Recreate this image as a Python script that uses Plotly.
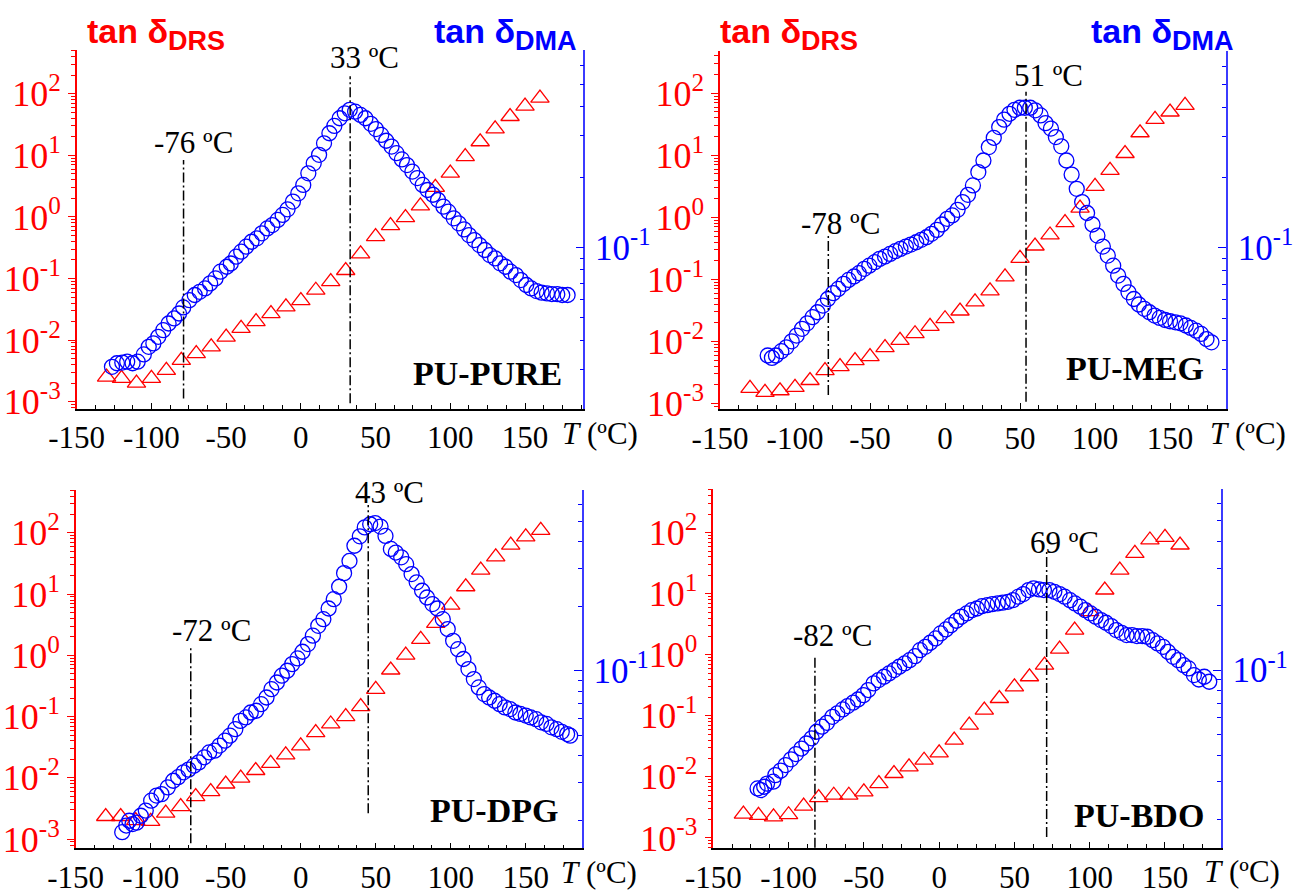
import plotly.graph_objects as go

W, H = 1296, 894

# ---------------- data ----------------
T_drs = [-130, -120, -110, -100, -90, -80, -70, -60, -50, -40, -30, -20, -10, 0, 10,
         20, 30, 40, 50, 60, 70, 80, 90, 100, 110, 120, 130, 140, 150, 160]

pure_drs = [0.00251, 0.00240, 0.00200, 0.00240, 0.00324, 0.00468, 0.00603, 0.00776, 0.0112, 0.0155,
            0.0200, 0.0269, 0.0347, 0.0437, 0.0646, 0.0891, 0.135, 0.251, 0.479, 0.724,
            0.977, 1.51, 3.02, 5.13, 9.55, 16.6, 26.9, 42.7, 63.1, 85.1]
meg_drs = [0.00175, 0.00151, 0.00160, 0.00182, 0.00234, 0.00339, 0.00393, 0.00490, 0.00570, 0.00794,
           0.0104, 0.0133, 0.0175, 0.0232, 0.0309, 0.0433, 0.0652, 0.110, 0.218, 0.345,
           0.520, 0.824, 1.41, 3.16, 5.73, 10.7, 23.1, 37.9, 49.9, 64.0]
dpg_drs = [0.00234, 0.00234, 0.00200, 0.00195, 0.00265, 0.00340, 0.00495, 0.00597, 0.00794, 0.00989,
           0.0132, 0.0173, 0.0237, 0.0333, 0.0548, 0.0759, 0.100, 0.146, 0.279, 0.577,
           1.01, 1.82, 3.33, 6.62, 13.2, 24.6, 40.6, 63.0, 86.1, 110.0]
bdo_drs = [0.00245, 0.00234, 0.00221, 0.00240, 0.00331, 0.00457, 0.00501, 0.00501, 0.00568, 0.00778,
           0.01135, 0.01459, 0.01875, 0.0247, 0.0399, 0.0703, 0.124, 0.192, 0.299, 0.436,
           0.678, 1.24, 2.54, 5.07, 11.5, 24.4, 45.8, 75.9, 83.8, 62.8]

pure_dma_T = [-126.4, -123.1, -119.5, -116.2, -112.6, -109.2, -105.1, -101.8, -98.7, -95.4, -92.1, -88.5,
              -84.8, -81.5, -78.7, -74.6, -71.0, -67.7, -64.1, -60.7, -57.1, -53.8, -49.6, -46.9,
              -43.3, -39.9, -36.6, -33.0, -29.4, -26.1, -22.5, -19.1, -15.5, -12.2, -8.9, -5.3,
              -1.7, 1.6, 5.0, 8.6, 12.2, 15.5, 19.1, 22.4, 26.0, 29.4, 32.7, 36.3,
              39.9, 43.2, 46.8, 50.2, 53.8, 57.1, 60.7, 64.0, 67.6, 71.0, 74.6, 77.9,
              81.5, 84.8, 88.4, 91.8, 95.4, 98.7, 102.3, 105.6, 109.2, 112.5, 116.1, 119.5,
              123.1, 126.4, 130.0, 133.3, 136.9, 140.3, 143.9, 147.2, 150.8, 154.1, 157.7, 161.1,
              164.7, 168.0, 171.6, 174.9, 178.5]
pure_dma = [0.0308, 0.0319, 0.0321, 0.0324, 0.0319, 0.0324, 0.0348, 0.0375, 0.0388, 0.0414, 0.0442, 0.0472,
            0.0496, 0.0521, 0.0553, 0.0594, 0.0625, 0.0645, 0.0667, 0.0701, 0.0736, 0.0787, 0.0826, 0.0853,
            0.0912, 0.0958, 0.1007, 0.1057, 0.1093, 0.1148, 0.1205, 0.1246, 0.131, 0.1377, 0.1455, 0.157,
            0.1703, 0.185, 0.2075, 0.229, 0.249, 0.279, 0.308, 0.331, 0.357, 0.375, 0.388, 0.381,
            0.369, 0.357, 0.338, 0.321, 0.303, 0.286, 0.270, 0.253, 0.238, 0.225, 0.211, 0.198,
            0.185, 0.176, 0.168, 0.1595, 0.1494, 0.1422, 0.1331, 0.1267, 0.1194, 0.1129, 0.1074, 0.1023,
            0.0974, 0.0927, 0.0897, 0.0854, 0.0826, 0.0787, 0.0761, 0.0724, 0.069, 0.0667, 0.065, 0.064,
            0.0635, 0.0631, 0.063, 0.0625, 0.0625]

meg_dma_T = [-118.2, -115.4, -112.7, -109.1, -105.8, -102.2, -98.9, -95.3, -91.9, -88.3, -85.0, -81.4,
             -78.1, -74.5, -71.2, -67.6, -64.3, -60.7, -57.4, -53.8, -50.5, -46.9, -43.6, -40.0,
             -36.6, -33.1, -29.7, -26.1, -22.8, -19.2, -15.9, -12.3, -9.0, -5.4, -2.1, 1.5,
             4.8, 8.4, 11.7, 15.3, 18.6, 22.2, 25.6, 29.2, 32.5, 36.1, 39.4, 43.0,
             46.3, 49.9, 53.2, 56.8, 60.1, 63.7, 67.0, 70.6, 73.9, 77.5, 80.9, 84.4,
             87.8, 91.4, 94.7, 98.3, 101.6, 105.2, 108.5, 112.1, 115.4, 119.0, 122.3, 125.9,
             129.2, 132.8, 136.2, 139.7, 143.1, 146.7, 150.0, 153.6, 156.9, 160.5, 163.8, 167.4,
             170.7, 174.3, 177.6]
meg_dma = [0.0346, 0.0338, 0.0346, 0.0361, 0.0375, 0.0398, 0.0421, 0.045, 0.0475, 0.0505, 0.053, 0.0566,
           0.0604, 0.064, 0.0667, 0.0701, 0.0729, 0.0754, 0.0779, 0.0813, 0.0839, 0.0868, 0.0897, 0.0918,
           0.0942, 0.0968, 0.099, 0.1013, 0.1033, 0.1057, 0.1082, 0.111, 0.1148, 0.1194, 0.1259, 0.1331,
           0.1377, 0.1455, 0.157, 0.1687, 0.185, 0.211, 0.2366, 0.270, 0.296, 0.329, 0.354, 0.375,
           0.390, 0.398, 0.398, 0.398, 0.388, 0.369, 0.342, 0.324, 0.298, 0.272, 0.2366, 0.206,
           0.179, 0.157, 0.141, 0.1259, 0.1129, 0.1013, 0.0927, 0.0839, 0.0761, 0.0701, 0.0645, 0.0604,
           0.0572, 0.0548, 0.053, 0.0513, 0.0501, 0.0491, 0.0485, 0.048, 0.0475, 0.0465, 0.0454, 0.0442,
           0.0428, 0.0407, 0.0394]

dpg_dma_T = [-119.0, -116.3, -114.3, -112.1, -109.4, -106.6, -103.3, -99.7, -96.1, -92.8, -88.6, -85.0,
             -81.7, -78.1, -74.8, -71.2, -67.9, -64.3, -61.0, -57.4, -54.1, -50.5, -47.2, -43.6,
             -40.2, -36.6, -33.3, -29.7, -26.4, -22.8, -19.5, -15.9, -12.6, -9.0, -5.7, -2.1,
             1.2, 4.8, 8.1, 11.7, 15.1, 18.6, 22.0, 25.6, 28.9, 32.5, 35.8, 39.4,
             42.7, 46.3, 49.6, 53.2, 56.5, 60.1, 63.4, 67.0, 70.3, 73.9, 77.3, 80.9,
             84.2, 87.8, 91.1, 94.7, 98.0, 101.6, 104.9, 108.5, 111.8, 115.4, 118.7, 122.3,
             125.6, 129.2, 132.6, 136.1, 139.5, 143.1, 146.4, 150.0, 153.3, 156.9, 160.2, 163.8,
             167.1, 170.7, 174.0, 177.6, 179.6]
dpg_dma = [0.0176, 0.0189, 0.0199, 0.0192, 0.0195, 0.021, 0.0222, 0.0247, 0.0261, 0.0265, 0.0285, 0.0306,
           0.0318, 0.0335, 0.0345, 0.036, 0.0373, 0.0394, 0.0415, 0.0423, 0.0447, 0.0471, 0.0497, 0.0533,
           0.0583, 0.0605, 0.0638, 0.065, 0.0698, 0.075, 0.082, 0.0881, 0.0948, 0.1, 0.1074, 0.1142,
           0.1227, 0.1333, 0.1459, 0.1622, 0.1742, 0.1954, 0.216, 0.247, 0.286, 0.326, 0.384, 0.425,
           0.468, 0.484, 0.49, 0.472, 0.427, 0.371, 0.357, 0.339, 0.315, 0.283, 0.259, 0.2366,
           0.22, 0.205, 0.1954, 0.1742, 0.1567, 0.138, 0.1262, 0.1135, 0.1018, 0.0914, 0.0836, 0.0778,
           0.075, 0.0724, 0.0698, 0.0674, 0.0662, 0.0638, 0.0628, 0.0617, 0.0605, 0.0594, 0.0574, 0.0564,
           0.0544, 0.0533, 0.0518, 0.0506, 0.0497]

bdo_dma_T = [-120.6, -118.4, -116.2, -114.3, -110.2, -108.8, -105.3, -102.0, -98.4, -95.1, -91.5, -88.2,
             -84.7, -81.4, -77.8, -74.5, -70.9, -67.6, -64.1, -60.8, -57.2, -53.9, -50.3, -47.1,
             -43.5, -40.2, -36.6, -33.3, -29.8, -26.5, -22.9, -19.6, -16.0, -12.7, -9.2, -5.9,
             -2.3, 1.0, 4.5, 7.8, 11.4, 14.7, 18.3, 21.6, 25.1, 28.4, 32.0, 35.3,
             38.9, 42.2, 45.7, 49.0, 52.6, 55.9, 59.4, 62.7, 66.3, 69.6, 73.2, 76.5,
             80.0, 83.3, 86.9, 90.2, 93.8, 97.1, 100.6, 103.9, 107.5, 110.8, 114.3, 117.6,
             121.2, 124.5, 128.1, 131.4, 134.9, 138.2, 141.8, 145.1, 148.7, 152.0, 155.5, 158.8,
             162.4, 165.7, 169.2, 172.5, 176.1, 179.4]
bdo_dma = [0.028, 0.0275, 0.0285, 0.0295, 0.0301, 0.0323, 0.0339, 0.036, 0.0383, 0.0405, 0.043, 0.0454,
           0.048, 0.0515, 0.0544, 0.0567, 0.0605, 0.0628, 0.0655, 0.0679, 0.0704, 0.0729, 0.0764, 0.0807,
           0.0867, 0.0898, 0.0931, 0.0965, 0.1, 0.1037, 0.1074, 0.1113, 0.1162, 0.1239, 0.1285, 0.1342,
           0.1406, 0.1484, 0.1549, 0.1622, 0.1701, 0.1776, 0.184, 0.1906, 0.194, 0.199, 0.2012, 0.2033,
           0.205, 0.2066, 0.2086, 0.2123, 0.2203, 0.2266, 0.2366, 0.241, 0.2383, 0.2366, 0.2366, 0.2323,
           0.2266, 0.2203, 0.2123, 0.205, 0.1978, 0.1906, 0.184, 0.1776, 0.1713, 0.1665, 0.1606, 0.1538,
           0.1494, 0.1458, 0.1458, 0.1442, 0.1442, 0.1432, 0.138, 0.1333, 0.1285, 0.1218, 0.1154, 0.1113,
           0.1054, 0.1018, 0.0948, 0.0904, 0.0931, 0.0882]

sample_names = ["PU-PURE", "PU-MEG", "PU-DPG", "PU-BDO"]
tg_low = ["-76 ºC", "-78 ºC", "-72 ºC", "-82 ºC"]
tg_high = ["33 ºC", "51 ºC", "43 ºC", "69 ºC"]

x_tickvals = [-150, -100, -50, 0, 50, 100, 150]
x_ticktext = ["-150", "-100", "-50", "0", "50", "100", "150"]
yl_tickvals = [1e-3, 1e-2, 1e-1, 1e0, 1e1, 1e2]
yl_ticktext = ["10<sup>-3</sup>", "10<sup>-2</sup>", "10<sup>-1</sup>",
               "10<sup>0</sup>", "10<sup>1</sup>", "10<sup>2</sup>"]
yr_tickvals = [0.1]
yr_ticktext = ["10<sup>-1</sup>"]

# ---------------- layout geometry (pixels) ----------------
panels = [
    dict(drs=pure_drs, dT=pure_dma_T, dv=pure_dma, px=(76.7, 583.3), py=(50, 408.5),
         xr=[-150, 189], yl=[-3.11, 2.71], yr=[-1.69, -0.155],
         vlines=[(-78.5, 0.028, 0.693), (33.0, 0.0145, 0.927)],
         lab_low=(193, 143), lab_high=(364, 58), name_pos=(564, 373), tlab=(600, 433), title=True),
    dict(drs=meg_drs, dT=meg_dma_T, dv=meg_dma, px=(720, 1226), py=(50.5, 409),
         xr=[-150, 187.3], yl=[-3.09, 2.69], yr=[-1.69, -0.155],
         vlines=[(-77.8, 0.039, 0.485), (54.0, 0.02, 0.885)],
         lab_low=(840, 223), lab_high=(1048, 75), name_pos=(1206, 368), tlab=(1248, 433), title=True),
    dict(drs=dpg_drs, dT=dpg_dma_T, dv=dpg_dma, px=(75.7, 581.7), py=(490, 848.3),
         xr=[-150, 187.3], yl=[-3.15, 2.70], yr=[-1.83, -0.155],
         vlines=[(-73.3, 0.014, 0.567), (45.0, 0.098, 0.958)],
         lab_low=(211, 630), lab_high=(389, 492), name_pos=(560, 810), tlab=(599, 872), title=False),
    dict(drs=bdo_drs, dT=bdo_dma_T, dv=bdo_dma, px=(713.3, 1220.7), py=(489.3, 847.7),
         xr=[-150, 187], yl=[-3.16, 2.71], yr=[-1.83, -0.155],
         vlines=[(-82.5, 0.0, 0.538), (71.4, 0.03, 0.83)],
         lab_low=(832, 635), lab_high=(1064, 542), name_pos=(1206, 815), tlab=(1242, 871), title=False),
]

RED = "#ff0000"
BLUE = "#0000ff"
SERIF = "Liberation Serif"
SANS = "Liberation Sans"

yl_minor = [k * 10.0 ** e for e in range(-4, 3) for k in range(2, 10)]
yr_minor = [0.02, 0.03, 0.04, 0.05, 0.06, 0.07, 0.08, 0.09, 0.2, 0.3, 0.4, 0.5, 0.6, 0.7]


def fx(x):
    return x / W


def fy(y):
    return 1 - y / H


fig = go.Figure()
layout = {}
shapes = []
annotations = []

for i, p in enumerate(panels):
    n = i + 1
    xid = "x" if n == 1 else f"x{n}"
    lid_n = 2 * n - 1
    rid_n = 2 * n
    lid = "y" if lid_n == 1 else f"y{lid_n}"
    rid = f"y{rid_n}"
    xkey = "xaxis" if n == 1 else f"xaxis{n}"
    lkey = "yaxis" if lid_n == 1 else f"yaxis{lid_n}"
    rkey = f"yaxis{rid_n}"
    xdom = [fx(p["px"][0]), fx(p["px"][1])]
    ydom = [fy(p["py"][1]), fy(p["py"][0])]

    fig.add_trace(go.Scatter(
        x=T_drs, y=p["drs"], mode="markers", xaxis=xid, yaxis=lid, showlegend=False,
        cliponaxis=False,
        marker=dict(symbol="triangle-up-open", size=16, color=RED, line=dict(width=1.3, color=RED))))
    fig.add_trace(go.Scatter(
        x=p["dT"], y=p["dv"], mode="markers", xaxis=xid, yaxis=rid, showlegend=False,
        cliponaxis=False,
        marker=dict(symbol="circle-open", size=15, color=BLUE, line=dict(width=1.3, color=BLUE))))

    layout[xkey] = dict(
        domain=xdom, anchor=lid, range=p["xr"], tickmode="array", tickvals=x_tickvals,
        ticktext=x_ticktext, ticks="inside", ticklen=6, tickwidth=1.2, tickcolor="black",
        showline=True, linecolor="black", linewidth=1.5, showgrid=False, zeroline=False,
        automargin=False, ticklabelstandoff=1,
        tickfont=dict(family=SERIF, size=31, color="black"),
        minor=dict(tickmode="linear", tick0=-150, dtick=12.5, ticks="inside", ticklen=4,
                   tickwidth=1, tickcolor="black", showgrid=False))
    layout[lkey] = dict(
        type="log", domain=ydom, anchor=xid, range=p["yl"], tickmode="array",
        tickvals=yl_tickvals, ticktext=yl_ticktext, ticks="outside", ticklen=7, tickwidth=1.2,
        tickcolor=RED, showline=True, linecolor=RED, linewidth=1.5, showgrid=False, zeroline=False,
        automargin=False,
        tickfont=dict(family=SERIF, size=36, color=RED),
        minor=dict(tickmode="array", tickvals=yl_minor, ticks="outside", ticklen=4, tickwidth=1,
                   tickcolor=RED, showgrid=False))
    layout[rkey] = dict(
        type="log", domain=ydom, anchor=xid, overlaying=lid, side="right", range=p["yr"],
        tickmode="array", tickvals=yr_tickvals, ticktext=yr_ticktext, ticks="inside", ticklen=8,
        tickwidth=1.2, tickcolor=BLUE, showline=True, linecolor="#3b3bff", linewidth=1.5,
        showgrid=False, zeroline=False, automargin=False, ticklabelstandoff=3,
        tickfont=dict(family=SERIF, size=35, color=BLUE),
        minor=dict(tickmode="array", tickvals=yr_minor, ticks="inside", ticklen=4, tickwidth=1,
                   tickcolor=BLUE, showgrid=False))

    for (xv, y0, y1) in p["vlines"]:
        shapes.append(dict(type="line", xref=xid, yref=f"{lid} domain", x0=xv, x1=xv, y0=y0, y1=y1,
                           line=dict(color="black", width=1.5, dash="10px,3px,2px,3px")))

    annotations.append(dict(text=tg_low[i], x=fx(p["lab_low"][0]), y=fy(p["lab_low"][1]),
                            xref="paper", yref="paper", xanchor="center", yanchor="middle",
                            showarrow=False, font=dict(family=SERIF, size=31, color="black")))
    annotations.append(dict(text=tg_high[i], x=fx(p["lab_high"][0]), y=fy(p["lab_high"][1]),
                            xref="paper", yref="paper", xanchor="center", yanchor="middle",
                            showarrow=False, font=dict(family=SERIF, size=31, color="black")))
    annotations.append(dict(text="<b>" + sample_names[i] + "</b>", x=fx(p["name_pos"][0]),
                            y=fy(p["name_pos"][1]), xref="paper", yref="paper", xanchor="right",
                            yanchor="middle", showarrow=False,
                            font=dict(family=SERIF, size=34, color="black")))
    annotations.append(dict(text="<i>T</i> (ºC)", x=fx(p["tlab"][0]), y=fy(p["tlab"][1]),
                            xref="paper", yref="paper", xanchor="center", yanchor="middle",
                            showarrow=False, font=dict(family=SERIF, size=31, color="black")))
    if p["title"]:
        annotations.append(dict(
            text="<b>tan δ<sub><span style='font-size:27px'>DRS</span></sub></b>",
            x=fx(p["px"][0] + (8 if n == 1 else -2)), y=fy(58), xref="paper", yref="paper",
            xanchor="left", yanchor="bottom", showarrow=False,
            font=dict(family=SANS, size=34, color=RED)))
        annotations.append(dict(
            text="<b>tan δ<sub><span style='font-size:27px'>DMA</span></sub></b>",
            x=fx(p["px"][1] + (-4 if n == 1 else 10)), y=fy(58), xref="paper", yref="paper",
            xanchor="right", yanchor="bottom", showarrow=False,
            font=dict(family=SANS, size=34, color=BLUE)))

fig.update_layout(
    width=W, height=H, margin=dict(l=0, r=0, t=0, b=0, autoexpand=False),
    paper_bgcolor="white", plot_bgcolor="rgba(0,0,0,0)",
    showlegend=False, shapes=shapes, annotations=annotations, **layout)

fig.write_html("out.html")
